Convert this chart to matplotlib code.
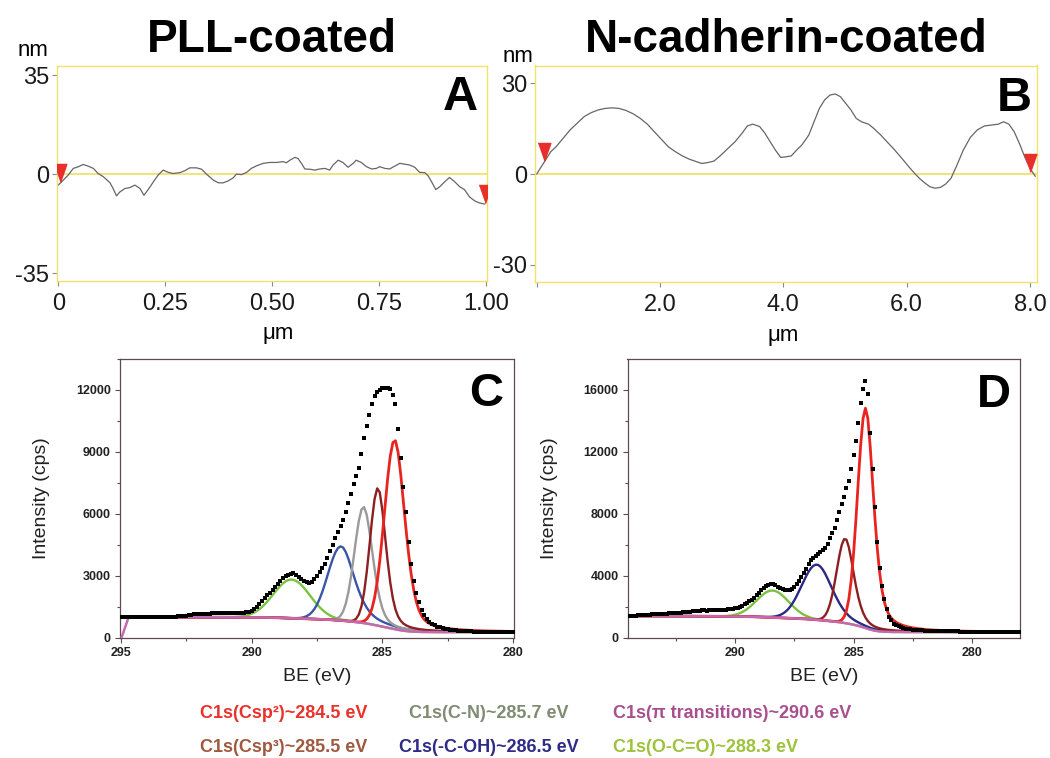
import numpy as np
import matplotlib
matplotlib.use("Agg")
import matplotlib.pyplot as plt
from matplotlib.ticker import MultipleLocator

plt.rcParams['font.family'] = ['Liberation Sans', 'DejaVu Sans']

# ---------------- AFM height profiles (um, nm) ----------------
pll_profile = [
    (0.0, -3.9), (0.012, -2.1), (0.023, -0.4), (0.035, 2.0), (0.047, 2.6), (0.058, 3.4),
    (0.07, 2.8), (0.082, 2.0), (0.093, 0.2), (0.105, -0.9), (0.121, -3.1), (0.128, -5.1),
    (0.136, -7.7), (0.144, -6.3), (0.156, -5.1), (0.167, -4.8), (0.179, -3.9), (0.191, -5.1),
    (0.2, -7.5), (0.21, -5.5), (0.222, -2.8), (0.233, -0.4), (0.245, 1.4), (0.257, 0.6),
    (0.268, 0.2), (0.284, 0.5), (0.296, 1.2), (0.307, 2.2), (0.323, 2.2), (0.335, 1.7),
    (0.346, 0.0), (0.362, -2.1), (0.374, -3.1), (0.385, -3.1), (0.397, -2.4), (0.409, -1.3),
    (0.416, 0.0), (0.428, -0.2), (0.44, 0.6), (0.451, 2.0), (0.463, 2.9), (0.479, 3.8),
    (0.494, 4.1), (0.51, 4.1), (0.525, 4.4), (0.533, 4.0), (0.541, 4.9), (0.553, 5.9),
    (0.56, 5.5), (0.568, 3.8), (0.576, 1.8), (0.588, 1.7), (0.599, 1.4), (0.611, 1.8),
    (0.623, 2.0), (0.634, 1.4), (0.642, 3.2), (0.654, 4.9), (0.665, 4.1), (0.677, 2.4),
    (0.689, 3.8), (0.696, 4.9), (0.708, 4.1), (0.72, 2.6), (0.732, 1.8), (0.743, 2.0),
    (0.751, 2.6), (0.763, 2.0), (0.774, 1.8), (0.786, 2.8), (0.798, 3.8), (0.809, 3.5),
    (0.821, 3.2), (0.833, 2.4), (0.844, 0.6), (0.856, 0.5), (0.864, -0.6), (0.872, -2.7),
    (0.882, -5.5), (0.891, -4.5), (0.903, -2.7), (0.914, -1.2), (0.926, -2.7), (0.938, -4.5),
    (0.949, -5.5), (0.961, -8.1), (0.973, -9.5), (0.984, -10.2), (0.996, -10.6),
]
pll_marks_x = [0.005, 0.996]
pll_marks_z = [0.5, -7.1]

ncad_profile = [
    (0.0, 0.0), (0.057, 1.9), (0.142, 4.6), (0.228, 7.4), (0.313, 9.0), (0.427, 11.8),
    (0.541, 14.6), (0.655, 16.8), (0.769, 19.0), (0.883, 20.3), (0.996, 21.2), (1.11, 21.7),
    (1.224, 21.9), (1.338, 21.7), (1.452, 21.0), (1.566, 19.9), (1.68, 18.4), (1.794, 16.5),
    (1.907, 14.0), (2.021, 11.5), (2.135, 9.0), (2.249, 7.4), (2.363, 6.0), (2.477, 4.9),
    (2.591, 4.1), (2.676, 3.5), (2.762, 3.75), (2.876, 4.3), (2.99, 6.3), (3.103, 8.5),
    (3.217, 10.7), (3.331, 13.5), (3.416, 15.9), (3.502, 16.5), (3.616, 15.7), (3.701, 13.5),
    (3.786, 10.7), (3.872, 7.9), (3.957, 5.5), (4.043, 5.7), (4.128, 6.0), (4.214, 7.9),
    (4.299, 9.6), (4.413, 12.9), (4.498, 17.3), (4.584, 21.7), (4.669, 24.5), (4.754, 26.1),
    (4.84, 26.5), (4.925, 25.6), (5.011, 23.4), (5.096, 21.2), (5.182, 18.4), (5.267, 17.3),
    (5.381, 16.5), (5.466, 15.1), (5.58, 12.9), (5.694, 10.4), (5.808, 7.9), (5.922, 5.2),
    (6.036, 2.4), (6.121, 0.4), (6.206, -1.4), (6.292, -2.9), (6.377, -4.2), (6.463, -4.7),
    (6.548, -4.4), (6.633, -3.3), (6.719, -1.4), (6.804, 2.4), (6.918, 7.9), (7.032, 12.1),
    (7.146, 14.6), (7.26, 15.9), (7.374, 16.2), (7.487, 16.5), (7.573, 17.3), (7.658, 16.5),
    (7.744, 14.0), (7.829, 10.1), (7.914, 5.7), (8.0, 1.9), (8.085, -0.7),
]
ncad_marks_x = [0.125, 8.006]
ncad_marks_z = [7.4, 3.6]

# ---------------- XPS C1s spectra, 0.1 eV steps from the start energy ----------------
pll_be_start = 295.0
pll_counts = [
    990, 988, 985, 987, 990, 986, 984, 988, 990, 987,          # 295.0 - 294.1
    985, 988, 990, 992, 989, 986, 990, 995, 993, 996,          # 294.0 - 293.1
    1000, 1010, 1020, 1035, 1050, 1065, 1085, 1105, 1120, 1135,  # 293.0 - 292.1
    1140, 1145, 1150, 1155, 1160, 1165, 1170, 1172, 1175, 1178,  # 292.0 - 291.1
    1180, 1183, 1186, 1190, 1193, 1196, 1200, 1210, 1230, 1260,  # 291.0 - 290.1
    1300, 1380, 1500, 1630, 1760, 1900, 2040, 2180, 2320, 2460,  # 290.0 - 289.1
    2600, 2740, 2880, 2980, 3050, 3100, 3110, 3030, 2940, 2840,  # 289.0 - 288.1
    2750, 2680, 2640, 2700, 2820, 2960, 3170, 3370, 3580, 3850,  # 288.0 - 287.1
    4200, 4500, 4800, 5100, 5400, 5700, 6080, 6530, 6980, 7420,  # 287.0 - 286.1
    7820, 8200, 8900, 9650, 10250, 10800, 11300, 11700, 11900, 12020,  # 286.0 - 285.1
    12080, 12110, 12110, 12030, 11750, 11300, 10100, 8700, 7300, 6100,  # 285.0 - 284.1
    4650, 3550, 2750, 2150, 1700, 1350, 1100, 920, 770, 660,   # 284.0 - 283.1
    590, 530, 490, 455, 425, 400, 380, 362, 348, 335,          # 283.0 - 282.1
    325, 316, 308, 300, 294, 289, 284, 280, 276, 273,          # 282.0 - 281.1
    270, 268, 266, 264, 262, 261, 260, 259, 258, 257,          # 281.0 - 280.1
    256,                                                       # 280.0
]
pll_bg_onset_be = 294.97      # background line starts from zero here
pll_bg_onset = 0

ncad_be_start = 294.5
ncad_counts = [
    1380, 1390, 1400, 1410, 1420, 1430, 1445, 1460, 1470, 1480,  # 294.5 - 293.6
    1490, 1495, 1500, 1510, 1515, 1525, 1535, 1550, 1560, 1575,  # 293.5 - 292.6
    1590, 1600, 1610, 1625, 1635, 1650, 1660, 1680, 1700, 1720,  # 292.5 - 291.6
    1740, 1760, 1750, 1740, 1745, 1750, 1750, 1755, 1760, 1770,  # 291.5 - 290.6
    1780, 1800, 1820, 1840, 1860, 1890, 1930, 1990, 2060, 2140,  # 290.5 - 289.6
    2230, 2330, 2450, 2580, 2730, 2880, 3040, 3180, 3300, 3380,  # 289.5 - 288.6
    3430, 3420, 3360, 3290, 3210, 3140, 3080, 3040, 3050, 3130,  # 288.5 - 287.6
    3260, 3450, 3670, 3900, 4180, 4450, 4750, 4980, 5100, 5230,  # 287.5 - 286.6
    5380, 5520, 5650, 5800, 6050, 6450, 6750, 7080, 7560, 8100,  # 286.5 - 285.6
    8600, 9050, 9650, 10120, 10850, 11800, 12650, 13850, 15150, 16050,  # 285.5 - 284.6
    16550, 15700, 13200, 10900, 8400, 6150, 4500, 3350, 2500, 1850,  # 284.5 - 283.6
    1350, 1100, 900, 790, 710, 660, 620, 580, 550, 530,        # 283.5 - 282.6
    510, 492, 476, 466, 455, 446, 441, 434, 430, 424,          # 282.5 - 281.6
    420, 417, 411, 408, 402, 400, 397, 393, 391, 388,          # 281.5 - 280.6
    386, 385, 381, 380, 377, 376, 373, 372, 369, 368,          # 280.5 - 279.6
    366, 363, 362, 359, 358, 355, 354, 351, 350, 348,          # 279.5 - 278.6
    346, 345, 344, 343, 342, 341,                              # 278.5 - 278.0
]

# fitted components: centre (eV), peak top (cps), FWHM (eV), low-BE tail fraction
pll_comp = ['O-C=O', 'C-OH', 'C-N', 'Csp3', 'Csp2']
pll_centre = [288.47, 286.58, 285.72, 285.17, 284.53]
pll_top = [2810, 4420, 6330, 7260, 9570]
pll_fwhm = [1.65, 1.2, 0.82, 0.72, 0.92]
pll_tail = [0.0, 0.5, 0.3, 0.4, 0.4]

ncad_comp = ['O-C=O', 'C-OH', 'Csp3', 'Csp2']
ncad_centre = [288.42, 286.55, 285.35, 284.49]
ncad_top = [3030, 4710, 6400, 14800]
ncad_fwhm = [1.6, 1.5, 0.85, 0.8]
ncad_tail = [0.0, 0.3, 0.45, 0.5]

legend_labels = [
    'C1s(Csp\u00b2)~284.5 eV', 'C1s(C-N)~285.7 eV', 'C1s(\u03c0 transitions)~290.6 eV',
    'C1s(Csp\u00b3)~285.5 eV', 'C1s(-C-OH)~286.5 eV', 'C1s(O-C=O)~288.3 eV',
]

# ---------------- styles ----------------
comp_color_c = {'O-C=O': '#7cc242', 'C-OH': '#3b55a6', 'C-N': '#9a9a9a',
                'Csp3': '#8c1f22', 'Csp2': '#e8241e'}
comp_color_d = dict(comp_color_c, **{'C-OH': '#2a2983'})
bg_color = '#c46ab0'
legend_colors = ['#e8322b', '#7f8c72', '#a8508f', '#a0583f', '#2e2a87', '#9dc23c']
yellow = '#f1e26a'
tri_color = '#e8302a'
tri_marker = [(-0.35, 0.5), (0.35, 0.5), (0.0, -0.5)]
frame_color = '#5e4b52'

W, H = 1050, 758
fig = plt.figure(figsize=(W / 100, H / 100), dpi=100)


def box(left, top, right, bottom):
    return [left / W, 1 - bottom / H, (right - left) / W, (bottom - top) / H]


def profile_panel(ax, profile, mx, mz, xlim, ylim, xticks, xlabels, yticks, letter, letter_pos):
    x, z = np.array(profile).T
    ax.axhline(0, color=yellow, lw=1.3, zorder=1)
    ax.plot(x, z, color='#666666', lw=0.9, zorder=2)
    ax.plot(mx, mz, ls='none', marker=tri_marker, ms=13, color=tri_color, mec=tri_color, zorder=3)
    ax.set_xlim(*xlim)
    ax.set_ylim(*ylim)
    for s in ax.spines.values():
        s.set_color(yellow)
        s.set_linewidth(1.0)
    ax.set_xticks(xticks, xlabels)
    ax.set_yticks(yticks, [str(t) for t in yticks])
    ax.tick_params(axis='both', length=3.6, width=0.8, color='#8a8a8a',
                   labelsize=17, labelcolor='#1a1a1a')
    ax.tick_params(axis='x', pad=5)
    ax.tick_params(axis='y', pad=2)
    ax.text(letter_pos[0], letter_pos[1], letter, transform=ax.transAxes, ha='right',
            va='baseline', fontsize=35, fontweight='bold')


def shirley(counts, n_iter=40):
    y = np.asarray(counts, float)
    hi, lo = y[:3].mean(), y[-3:].mean()
    bg = np.full_like(y, lo)
    for _ in range(n_iter):
        excess = np.clip(y - bg, 0, None)
        area = np.cumsum(excess[::-1])[::-1]
        bg = lo + (hi - lo) * area / area[0]
    return bg


def peak(be, centre, height, fwhm, tail):
    dx = (be - centre) / fwhm
    g = np.exp(-4 * np.log(2) * dx ** 2)
    lz = 1 / (1 + 4 * dx ** 2)
    eta = np.where(be < centre, tail, 0.0)
    return height * ((1 - eta) * g + eta * lz)


def xps_panel(ax, be_start, counts, comps, centres, tops, fwhms, tails, colors,
              xlim, ylim, xticks, yticks, ymin_step, letter, letter_pos, bg_onset=None):
    be = be_start - 0.1 * np.arange(len(counts))
    bg = shirley(counts)
    for name, c, top, w, t in zip(comps, centres, tops, fwhms, tails):
        h = top - bg[np.argmin(np.abs(be - c))]
        lw = 2.0 if name == 'Csp2' else 1.7
        ax.plot(be, bg + peak(be, c, h, w, t), color=colors[name], lw=lw, zorder=2)
    if bg_onset is not None:
        keep = be <= bg_onset[0] - 0.25
        bx = np.concatenate([[bg_onset[0]], be[keep]])
        by = np.concatenate([[bg_onset[1]], bg[keep]])
    else:
        bx, by = be, bg
    ax.plot(bx, by, color=bg_color, lw=1.8, zorder=3)
    ax.plot(be, counts, ls='none', marker='s', ms=2.5, color='black', mew=0, zorder=4)
    ax.set_xlim(*xlim)
    ax.set_ylim(*ylim)
    ax.set_xticks(xticks, [str(t) for t in xticks], fontweight='bold')
    ax.set_yticks(yticks, [str(t) for t in yticks], fontweight='bold')
    ax.xaxis.set_minor_locator(MultipleLocator(2.5))
    ax.yaxis.set_minor_locator(MultipleLocator(ymin_step))
    for s in ax.spines.values():
        s.set_color(frame_color)
        s.set_linewidth(0.9)
    ax.tick_params(which='both', direction='out', color=frame_color, width=0.8,
                   labelsize=9, labelcolor='#222222', pad=3)
    ax.tick_params(which='major', length=3.5)
    ax.tick_params(which='minor', length=2.2)
    ax.set_xlabel('BE (eV)', fontsize=14, color='#222222')
    ax.xaxis.set_label_coords(0.5, -0.108)
    ax.set_ylabel('Intensity (cps)', fontsize=14, color='#222222')
    ax.yaxis.set_label_coords(-0.178, 0.5)
    ax.text(letter_pos[0], letter_pos[1], letter, transform=ax.transAxes, ha='right',
            va='baseline', fontsize=34, fontweight='bold')


ax_a = fig.add_axes(box(57, 66, 487, 281))
profile_panel(ax_a, pll_profile, pll_marks_x, pll_marks_z, (-0.003, 1.0016), (-37.8, 38.2),
              [0, 0.25, 0.5, 0.75, 1.0], ['0', '0.25', '0.50', '0.75', '1.00'],
              [-35, 0, 35], 'A', (0.979, 0.795))
ax_a.text(0.514, -0.2465, '\u03bcm', transform=ax_a.transAxes, ha='center', va='center', fontsize=16)

ax_b = fig.add_axes(box(535, 65.5, 1037, 282))
profile_panel(ax_b, ncad_profile, ncad_marks_x, ncad_marks_z, (-0.028, 8.114), (-35.7, 35.9),
              [0, 2, 4, 6, 8], ['', '2.0', '4.0', '6.0', '8.0'],
              [-30, 0, 30], 'B', (0.9895, 0.792))
ax_b.text(0.494, -0.245, '\u03bcm', transform=ax_b.transAxes, ha='center', va='center', fontsize=16)

fig.text(33 / W, 1 - 50 / H, 'nm', ha='center', va='center', fontsize=16)
fig.text(518 / W, 1 - 56 / H, 'nm', ha='center', va='center', fontsize=16)
fig.text(272 / W, 1 - 52 / H, 'PLL-coated', ha='center', va='baseline', fontsize=33, fontweight='bold')
fig.text(786 / W, 1 - 52 / H, 'N-cadherin-coated', ha='center', va='baseline', fontsize=33,
         fontweight='bold')

ax_c = fig.add_axes(box(120, 359, 514, 637.5))
xps_panel(ax_c, pll_be_start, pll_counts, pll_comp, pll_centre, pll_top, pll_fwhm, pll_tail,
          comp_color_c, (295.03, 279.97), (0, 13500), [295, 290, 285, 280],
          [0, 3000, 6000, 9000, 12000], 1500, 'C', (0.972, 0.831),
          bg_onset=(pll_bg_onset_be, pll_bg_onset))

ax_d = fig.add_axes(box(627.5, 359, 1020, 637.5))
xps_panel(ax_d, ncad_be_start, ncad_counts, ncad_comp, ncad_centre, ncad_top, ncad_fwhm, ncad_tail,
          comp_color_d, (294.55, 277.97), (0, 17970), [290, 285, 280],
          [0, 4000, 8000, 12000, 16000], 2000, 'D', (0.976, 0.827))

legend_pos = [(200, 714), (409, 714), (613, 714), (200, 747), (399, 747), (613, 747)]
for lab, col, (lx, ly) in zip(legend_labels, legend_colors, legend_pos):
    fig.text(lx / W, 1 - ly / H, lab, ha='left', va='center', fontsize=13,
             fontweight='bold', color=col)

fig.savefig('out.png', dpi=100)
